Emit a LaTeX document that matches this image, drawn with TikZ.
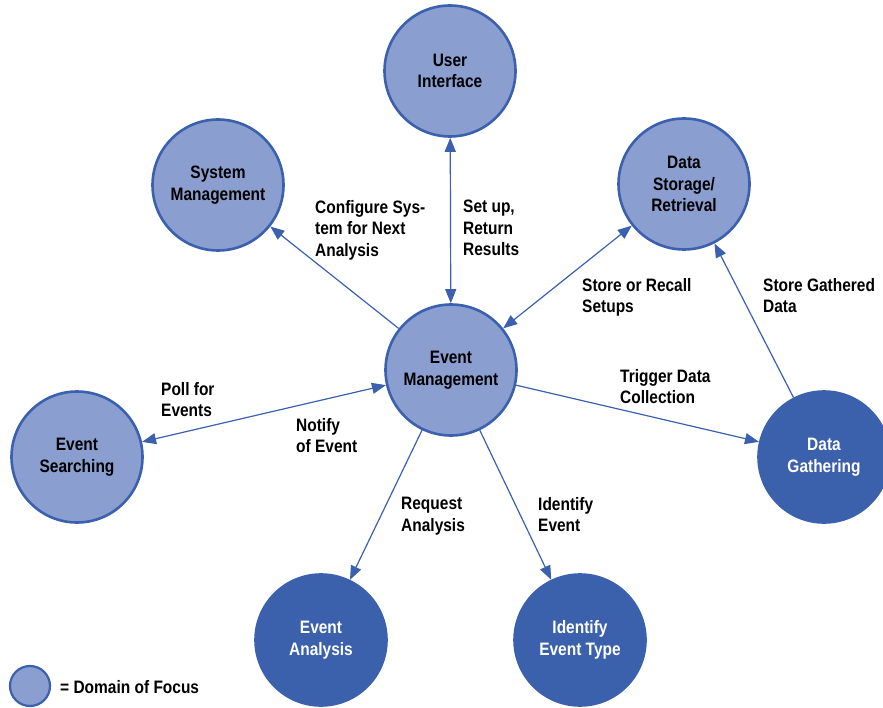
\documentclass[tikz,border=0pt]{standalone}
\usepackage{fontspec}
\setmainfont{Liberation Sans}[FakeStretch=0.86]
\usetikzlibrary{arrows.meta}
\definecolor{ringblue}{RGB}{59,96,174}
\definecolor{focusfill}{RGB}{138,158,208}
\definecolor{deepfill}{RGB}{59,96,172}
\begin{document}
\begin{tikzpicture}[x=1pt,y=-1pt,
  txt/.style={font=\fontsize{18}{21.5}\selectfont\bfseries},
  focus/.style={circle,draw=ringblue,line width=2.6pt,fill=focusfill,
    minimum size=131pt,inner sep=0pt,align=center,txt},
  outer/.style={focus,fill=deepfill,text=white},
  lbl/.style={anchor=north west,align=left,inner sep=0pt,txt},
  link/.style={draw=ringblue,line width=1.2pt},
  >={Triangle[length=14pt,width=11pt]}
]
\useasboundingbox (0,0) rectangle (883,708);

% domains
\node[focus] (ui) at (450,71)  {User\\Interface};
\node[focus] (sm) at (218,185) {System\\Management};
\node[focus] (ds) at (684,184) {Data\\Storage/\\Retrieval};
\node[focus] (em) at (451,370) {Event\\Management};
\node[focus] (es) at (77,457)  {Event\\Searching};
\node[outer] (dg) at (824,457) {Data\\Gathering};
\node[outer] (ea) at (321,640) {Event\\Analysis};
\node[outer] (it) at (580,640) {Identify\\Event Type};

% connections
\draw[link,<->] (em) -- (ui);
\draw[link,->]  (em) -- (sm);
\draw[link,<->] (em) -- (ds);
\draw[link,->]  (dg) -- (ds);
\draw[link,<->] (em) -- (es);
\draw[link,->]  (em) -- (dg);
\draw[link,->]  (em) -- (ea);
\draw[link,->]  (em) -- (it);

% connection labels
\node[lbl] (l1) at (315,200) {Configure Sys-\\tem for Next\\Analysis};
\node[lbl] (l2) at (463,200) {Set up,\\Return\\Results};
\node[lbl] (l3) at (582,278) {Store or Recall\\Setups};
\node[lbl] (l4) at (763,278) {Store Gathered\\Data};
\node[lbl] (l5) at (620,369) {Trigger Data\\Collection};
\node[lbl] (l6) at (161,382) {Poll for\\Events};
\node[lbl] (l7) at (296,418) {Notify\\of Event};
\node[lbl] (l8) at (401,497) {Request\\Analysis};
\node[lbl] (l9) at (538,497) {Identify\\Event};

% legend
\node[circle,draw=ringblue,line width=2.2pt,fill=focusfill,minimum size=40pt,inner sep=0pt] (key) at (30,686) {};
\node[anchor=west,inner sep=0pt,txt] (keytext) at (60,687) {= Domain of Focus};
\end{tikzpicture}
\end{document}
